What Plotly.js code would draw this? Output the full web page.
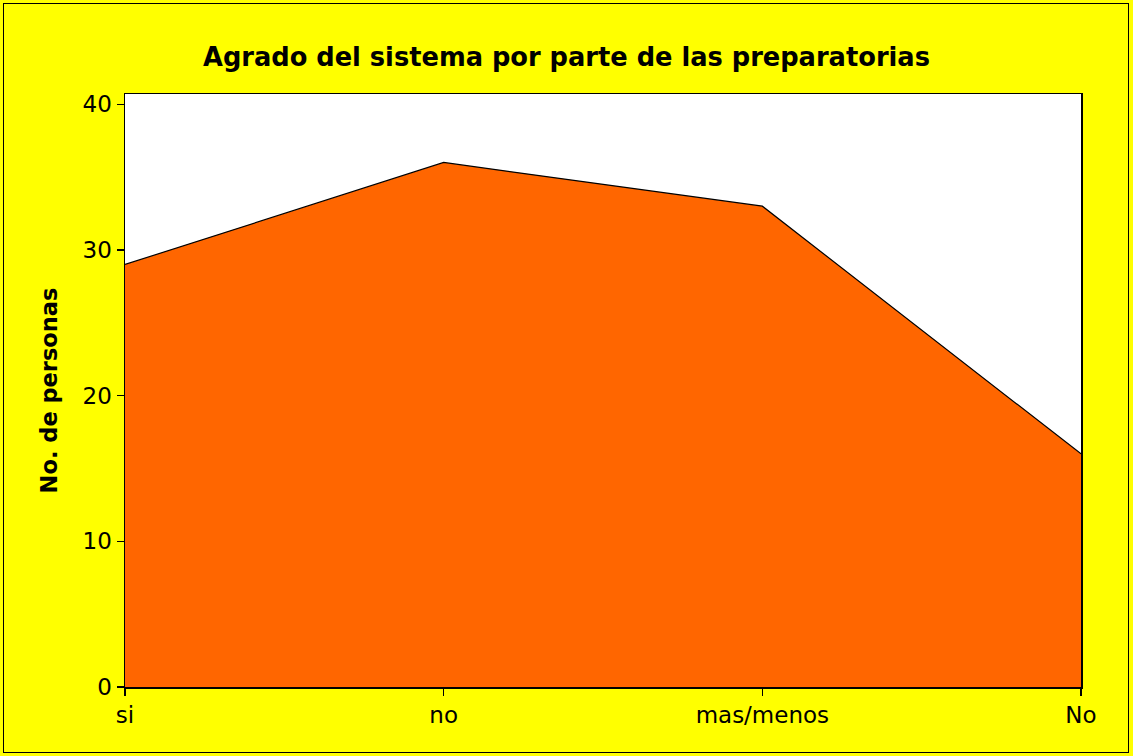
<!DOCTYPE html>
<html>
<head>
<meta charset="utf-8">
<script src="https://cdn.plot.ly/plotly-3.0.1.min.js"></script>
<style>
html,body{margin:0;padding:0;background:#ffff00;}
#wrap{position:relative;width:1133px;height:756px;}
#chart{width:1133px;height:756px;}
#frame{position:absolute;left:3px;top:3px;width:1126px;height:750px;border:1.5px solid #000;box-sizing:border-box;pointer-events:none;}
</style>
</head>
<body>
<div id="wrap"><div id="chart"></div><div id="frame"></div></div>
<script>
var categories = ["si", "no", "mas/menos", "No"];
var personas = [29, 36, 33, 16];
var yTicks = [0, 10, 20, 30, 40];

var trace = {
  x: categories,
  y: personas,
  type: "scatter",
  mode: "lines",
  fill: "tozeroy",
  fillcolor: "#ff6600",
  line: {color: "#000000", width: 1.2},
  hoverinfo: "x+y"
};

var layout = {
  width: 1133,
  height: 756,
  paper_bgcolor: "#ffff00",
  plot_bgcolor: "#ffffff",
  margin: {l: 125, r: 52, t: 94, b: 69},
  showlegend: false,
  font: {family: "DejaVu Sans, Verdana, sans-serif", color: "#000000", size: 23},
  title: {
    text: "<b>Agrado del sistema por parte de las preparatorias</b>",
    font: {family: "DejaVu Sans, Verdana, sans-serif", size: 25.7, color: "#000000"},
    x: 0.5, xanchor: "center",
    y: 0.924, yanchor: "middle"
  },
  xaxis: {
    type: "category",
    range: [0, 3],
    tickvals: categories,
    ticks: "outside",
    ticklen: 7,
    tickwidth: 1.2,
    tickcolor: "#000000",
    showline: true,
    linecolor: "#000000",
    linewidth: 1.5,
    mirror: true,
    showgrid: false,
    zeroline: false,
    tickfont: {size: 23},
    fixedrange: true
  },
  yaxis: {
    range: [0, 40.7],
    tickvals: yTicks,
    ticks: "outside",
    ticklen: 7,
    tickwidth: 1.2,
    tickcolor: "#000000",
    showline: true,
    linecolor: "#000000",
    linewidth: 1.5,
    mirror: true,
    showgrid: false,
    zeroline: false,
    tickfont: {size: 23},
    title: {
      text: "<b>No. de personas</b>",
      font: {size: 22.5},
      standoff: 18
    },
    fixedrange: true
  }
};

Plotly.newPlot("chart", [trace], layout, {displayModeBar: false, staticPlot: true});
</script>
</body>
</html>
